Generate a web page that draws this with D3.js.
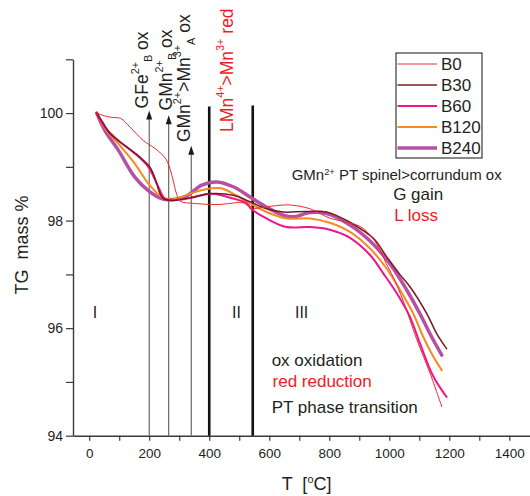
<!DOCTYPE html>
<html><head><meta charset="utf-8">
<script src="https://cdn.jsdelivr.net/npm/d3@7"></script>
<style>
html,body{margin:0;padding:0;background:#fff;}
svg text{font-family:"Liberation Sans",Arial,Helvetica,sans-serif;white-space:pre;}
</style></head><body>
<svg id="chart" width="530" height="496"></svg>
<script>
// ---------- data ----------
const seriesNames = ["B0", "B30", "B60", "B120", "B240"];
const seriesColors = ["#f0282d", "#7a1a1a", "#ec178c", "#f7891f", "#b650a6"];
const seriesWidths = [1, 1.5, 2, 2, 3.5];

const B0 = [[25,100],[50,99.95],[75,99.92],[105,99.9],[136,99.74],[180,99.49],[222,99.33],[255,99.15],[270,98.95],[281,98.72],[292,98.48],[304,98.36],[350,98.32],[430,98.3],[513,98.33],[530,98.27],[548,98.23],[585,98.25],[625,98.28],[670,98.29],[736,98.22],[800,98.05],[850,97.98],[900,97.9],[935,97.74],[965,97.5],[990,97.2],[1013,96.95],[1047,96.5],[1091,95.8],[1136,95.16],[1175,94.54]];
const B30 = [[25,100],[45,99.83],[69,99.62],[125,99.37],[169,99.18],[202,99.0],[215,98.85],[225,98.69],[236,98.5],[247,98.41],[265,98.38],[290,98.38],[347,98.44],[402,98.5],[480,98.47],[536,98.35],[591,98.22],[647,98.16],[720,98.17],[791,98.16],[830,98.08],[869,97.97],[947,97.67],[991,97.33],[1035,97.0],[1069,96.77],[1125,96.27],[1158,95.9],[1191,95.62]];
const B60 = [[25,100],[52,99.74],[97,99.49],[152,99.25],[197,99.0],[230,98.63],[252,98.41],[275,98.38],[320,98.4],[352,98.44],[408,98.5],[480,98.41],[525,98.32],[540,98.22],[591,98.04],[658,97.88],[736,97.88],[802,97.83],[869,97.68],[936,97.36],[980,97.02],[1025,96.65],[1069,96.21],[1102,95.72],[1147,95.1],[1191,94.72]];
const B120 = [[25,100],[52,99.72],[97,99.43],[152,99.06],[197,98.69],[241,98.44],[275,98.39],[352,98.53],[408,98.6],[440,98.6],[480,98.5],[536,98.32],[591,98.16],[658,98.04],[736,98.04],[802,97.96],[869,97.79],[936,97.48],[991,97.11],[1036,96.71],[1080,96.27],[1113,95.84],[1147,95.47],[1175,95.22]];
const B240 = [[25,100],[52,99.68],[97,99.31],[152,98.81],[197,98.56],[241,98.41],[263,98.39],[319,98.44],[375,98.66],[425,98.72],[480,98.63],[536,98.44],[591,98.25],[647,98.1],[680,98.07],[736,98.15],[791,98.13],[869,97.92],[936,97.62],[1002,97.2],[1058,96.71],[1102,96.27],[1140,95.85],[1175,95.5]];
const seriesData = [B0, B30, B60, B120, B240];

const yTickValues = [94, 95, 96, 97, 98, 99, 100, 101];
const yTickLabels = [94, 96, 98, 100];
const xTickValues = [0,100,200,300,400,500,600,700,800,900,1000,1100,1200,1300,1400];
const xTickLabels = [0, 200, 400, 600, 800, 1000, 1200, 1400];

// vertical marker lines: temperature, top value, arrow or thick bar
const markerT = [200, 265, 340, 400, 545];
const markerTop = [100.05, 99.96, 99.39, 100.12, 100.14];
const markerArrow = [true, true, true, false, false];

// ---------- drawing ----------
const svg = d3.select("#chart");
const x = d3.scaleLinear().domain([-54, 1469]).range([73, 530]);
const y = d3.scaleLinear().domain([94, 101]).range([435.7, 59.3]);
const ink = "#231f20";
const red = "#ed1c24";

// axes
const yAxis = d3.axisLeft(y).tickValues(yTickValues).tickSize(7).tickSizeOuter(0).tickPadding(3)
  .tickFormat(d => yTickLabels.includes(d) ? d : "");
const gy = svg.append("g").attr("transform", `translate(${x(-54)},0)`).call(yAxis);
const xAxis = d3.axisBottom(x).tickValues(xTickValues).tickSize(5).tickSizeOuter(0).tickPadding(8)
  .tickFormat(d => xTickLabels.includes(d) ? d : "");
const gx = svg.append("g").attr("transform", `translate(0,${y(94)})`).call(xAxis);
[gx, gy].forEach(g => {
  g.select(".domain").attr("stroke", "#3a3a3a").attr("stroke-width", 1.4);
  g.selectAll(".tick line").attr("stroke", "#3a3a3a").attr("stroke-width", 1.2);
  g.selectAll(".tick text").attr("fill", ink).attr("font-family", '"Liberation Sans",Arial,sans-serif');
});
gy.selectAll(".tick text").attr("font-size", 14);
gx.selectAll(".tick text").attr("font-size", 13.5);

// marker lines
markerT.forEach((t, i) => {
  const xp = x(t);
  if (markerArrow[i]) {
    svg.append("line").attr("x1", xp).attr("x2", xp).attr("y1", y(94)).attr("y2", y(markerTop[i]) + 6)
      .attr("stroke", "#4a4a4a").attr("stroke-width", 1);
    const yt = y(markerTop[i]);
    svg.append("path").attr("d", `M${xp},${yt} L${xp-3},${yt+9} L${xp+3},${yt+9} Z`).attr("fill", "#1a1a1a");
  } else {
    svg.append("line").attr("x1", xp).attr("x2", xp).attr("y1", y(94)).attr("y2", y(markerTop[i]))
      .attr("stroke", "#111").attr("stroke-width", 2.6);
  }
});

// series
const line = d3.line().x(d => x(d[0])).y(d => y(d[1])).curve(d3.curveCatmullRom.alpha(0.5));
const order = [4, 3, 2, 1, 0];
order.forEach(i => {
  svg.append("path").datum(seriesData[i]).attr("d", line).attr("fill", "none")
    .attr("stroke", seriesColors[i]).attr("stroke-width", seriesWidths[i])
    .attr("stroke-linejoin", "round").attr("stroke-linecap", "round");
});

// rich text helper
function rich(text, parts, fs, supScale, supShift, subShift) {
  let cur = 0;
  parts.forEach(p => {
    const size = p.s ? fs * supScale : fs;
    const target = p.s === "sup" ? -supShift : p.s === "sub" ? subShift : 0;
    text.append("tspan").attr("dy", target - cur).attr("font-size", size).text(p.t);
    cur = target;
  });
}
function rotLabel(t, v, parts, color) {
  const g = svg.append("g").attr("transform", `translate(${x(t)},${y(v)}) rotate(-90)`);
  const tx = g.append("text").attr("x", 0).attr("y", 0).attr("fill", color).attr("font-size", 17.5);
  rich(tx, parts, 17.5, 0.62, 9, 4.5);
}
rotLabel(195.7, 100.087, [{t:"GFe"},{t:"2+",s:"sup"},{t:"B",s:"sub"},{t:" ox"}], ink);
rotLabel(274.7, 100.05, [{t:"GMn"},{t:"2+",s:"sup"},{t:"B",s:"sub"},{t:" ox"}], ink);
rotLabel(337, 99.46, [{t:"GMn"},{t:"2+",s:"sup"},{t:">Mn"},{t:"3+",s:"sup"},{t:"A",s:"sub"},{t:" ox"}], ink);
rotLabel(480, 99.65, [{t:"LMn"},{t:"4+",s:"sup"},{t:">Mn"},{t:"3+",s:"sup"},{t:" red"}], red);

function hText(t, v, parts, fs, color) {
  const tx = svg.append("text").attr("x", x(t)).attr("y", y(v)).attr("fill", color).attr("font-size", fs);
  rich(tx, parts, fs, 0.62, 4.8, 3);
  return tx;
}
hText(674.7, 98.76, [{t:"GMn"},{t:"2+",s:"sup"},{t:" PT spinel>corrundum ox"}], 15, ink);
hText(1013, 98.39, [{t:"G gain"}], 17, ink);
hText(1016.7, 97.99, [{t:"L loss"}], 17, red);
hText(608, 95.3, [{t:"ox oxidation"}], 17, ink);
hText(611, 94.91, [{t:"red reduction"}], 17, red);
hText(608, 94.43, [{t:"PT phase transition"}], 17, ink);

// region numerals
[["I", 19], ["II", 491], ["III", 708]].forEach(([s, t]) => {
  svg.append("text").attr("x", x(t)).attr("y", y(96.19)).attr("text-anchor", "middle")
    .attr("font-size", 16).attr("fill", ink).text(s);
});

// axis titles
const xt = svg.append("text").attr("x", 281.7).attr("y", 490).attr("fill", ink).attr("font-size", 18);
rich(xt, [{t:"T  ["},{t:"o",s:"sup"},{t:"C]"}], 18, 0.6, 7, 0);
svg.append("text").attr("transform", "translate(28,245) rotate(-90)").attr("text-anchor", "middle")
  .attr("font-size", 18).attr("fill", ink).text("TG  mass %");

// legend
const lg = svg.append("g").attr("transform", "translate(396,53)");
lg.append("rect").attr("x", 0).attr("y", 0).attr("width", 86).attr("height", 105)
  .attr("fill", "#fff").attr("stroke", "#111").attr("stroke-width", 1);
seriesNames.forEach((n, i) => {
  const yy = 11 + i * 21;
  lg.append("line").attr("x1", 1.5).attr("x2", 41).attr("y1", yy).attr("y2", yy)
    .attr("stroke", seriesColors[i]).attr("stroke-width", seriesWidths[i]);
  lg.append("text").attr("x", 45).attr("y", yy + 6).attr("font-size", 17).attr("fill", ink).text(n);
});
</script>
</body></html>
